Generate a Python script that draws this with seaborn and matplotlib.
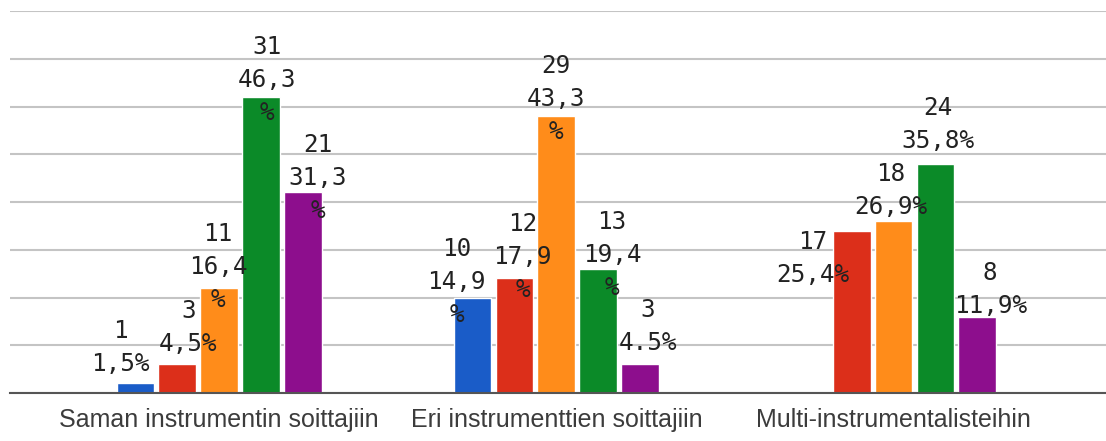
import numpy as np
import pandas as pd
import seaborn as sns
import matplotlib
matplotlib.use("Agg")
import matplotlib.pyplot as plt

# ---- data ----
categories = ["Saman instrumentin soittajiin",
              "Eri instrumenttien soittajiin",
              "Multi-instrumentalisteihin"]
series = ["Sarja 1", "Sarja 2", "Sarja 3", "Sarja 4", "Sarja 5"]
counts = [
    [1, 3, 11, 31, 21],
    [10, 12, 29, 13, 3],
    [np.nan, 17, 18, 24, 8],
]
pct_labels = [
    ["1,5%", "4,5%", "16,4%", "46,3%", "31,3%"],
    ["14,9%", "17,9%", "43,3%", "19,4%", "4.5%"],
    ["", "25,4%", "26,9%", "35,8%", "11,9%"],
]
colors = ["#1a5cc8", "#dc2f1a", "#ff8c1a", "#0b8a28", "#8d0e8d"]

# label layout (pixels): which percent labels wrap, and offsets from bar top
wrapped = [
    [False, False, True, True, True],
    [True, True, True, True, False],
    [False, False, False, False, False],
]
label_dx = [
    [-15, 11, -1, 6, 15],
    [-16, 8, 0, 14, 8],
    [0, -39, -3, 3, 13],
]
label_dy = [
    [-52, -53, -54, -50, -47],
    [-49, -54, -50, -47, -54],
    [0, 11, -47, -56, -44],
]

rows = []
for ci, cat in enumerate(categories):
    for si, s in enumerate(series):
        rows.append({"cat": cat, "series": s, "value": counts[ci][si]})
df = pd.DataFrame(rows).dropna()

sns.set_theme(style="white")
fig = plt.figure(figsize=(11.06, 4.41), dpi=100)
ax = fig.add_axes([10 / 1106, 1 - 393 / 441, 1 - 10 / 1106, (393 - 11) / 441])

sns.barplot(data=df, x="cat", y="value", hue="series", order=categories,
            hue_order=series, palette=colors, width=0.62, gap=0.1,
            saturation=1, legend=False, ax=ax)

ax.set_ylim(0, 40)
ax.set_xlim(-0.62, 2.63)
ax.set_yticks(np.arange(0, 41, 5))
ax.yaxis.grid(True, color="#c4c4c4", linewidth=1.5)
ax.set_axisbelow(True)
ax.tick_params(axis="y", left=False, labelleft=False)
ax.tick_params(axis="x", bottom=False, pad=5, labelsize=18, labelcolor="#3c3c3c")
for lab in ax.get_xticklabels():
    lab.set_fontfamily("Liberation Sans")
ax.set_xlabel("")
ax.set_ylabel("")
for side in ["left", "right", "top"]:
    ax.spines[side].set_visible(False)
ax.spines["bottom"].set_color("#555555")
ax.spines["bottom"].set_linewidth(1.5)

px = 72 / 100  # pixels to points
line_gap = 33
for si, cont in enumerate(ax.containers):
    for bar in cont:
        h = bar.get_height()
        if not np.isfinite(h) or h <= 0:
            continue
        xc = bar.get_x() + bar.get_width() / 2
        ci = int(round(xc))
        pct = pct_labels[ci][si]
        if wrapped[ci][si]:
            lines = [str(int(counts[ci][si])), pct[:-1], "%"]
        else:
            lines = [str(int(counts[ci][si])), pct]
        for li, txt in enumerate(lines):
            ax.annotate(txt, xy=(xc, h),
                        xytext=(label_dx[ci][si] * px,
                                -(label_dy[ci][si] + li * line_gap) * px),
                        textcoords="offset points", ha="center", va="center",
                        fontsize=17.5, family="DejaVu Sans Mono",
                        color="#222222", annotation_clip=False)

fig.savefig("out.png", dpi=100)
